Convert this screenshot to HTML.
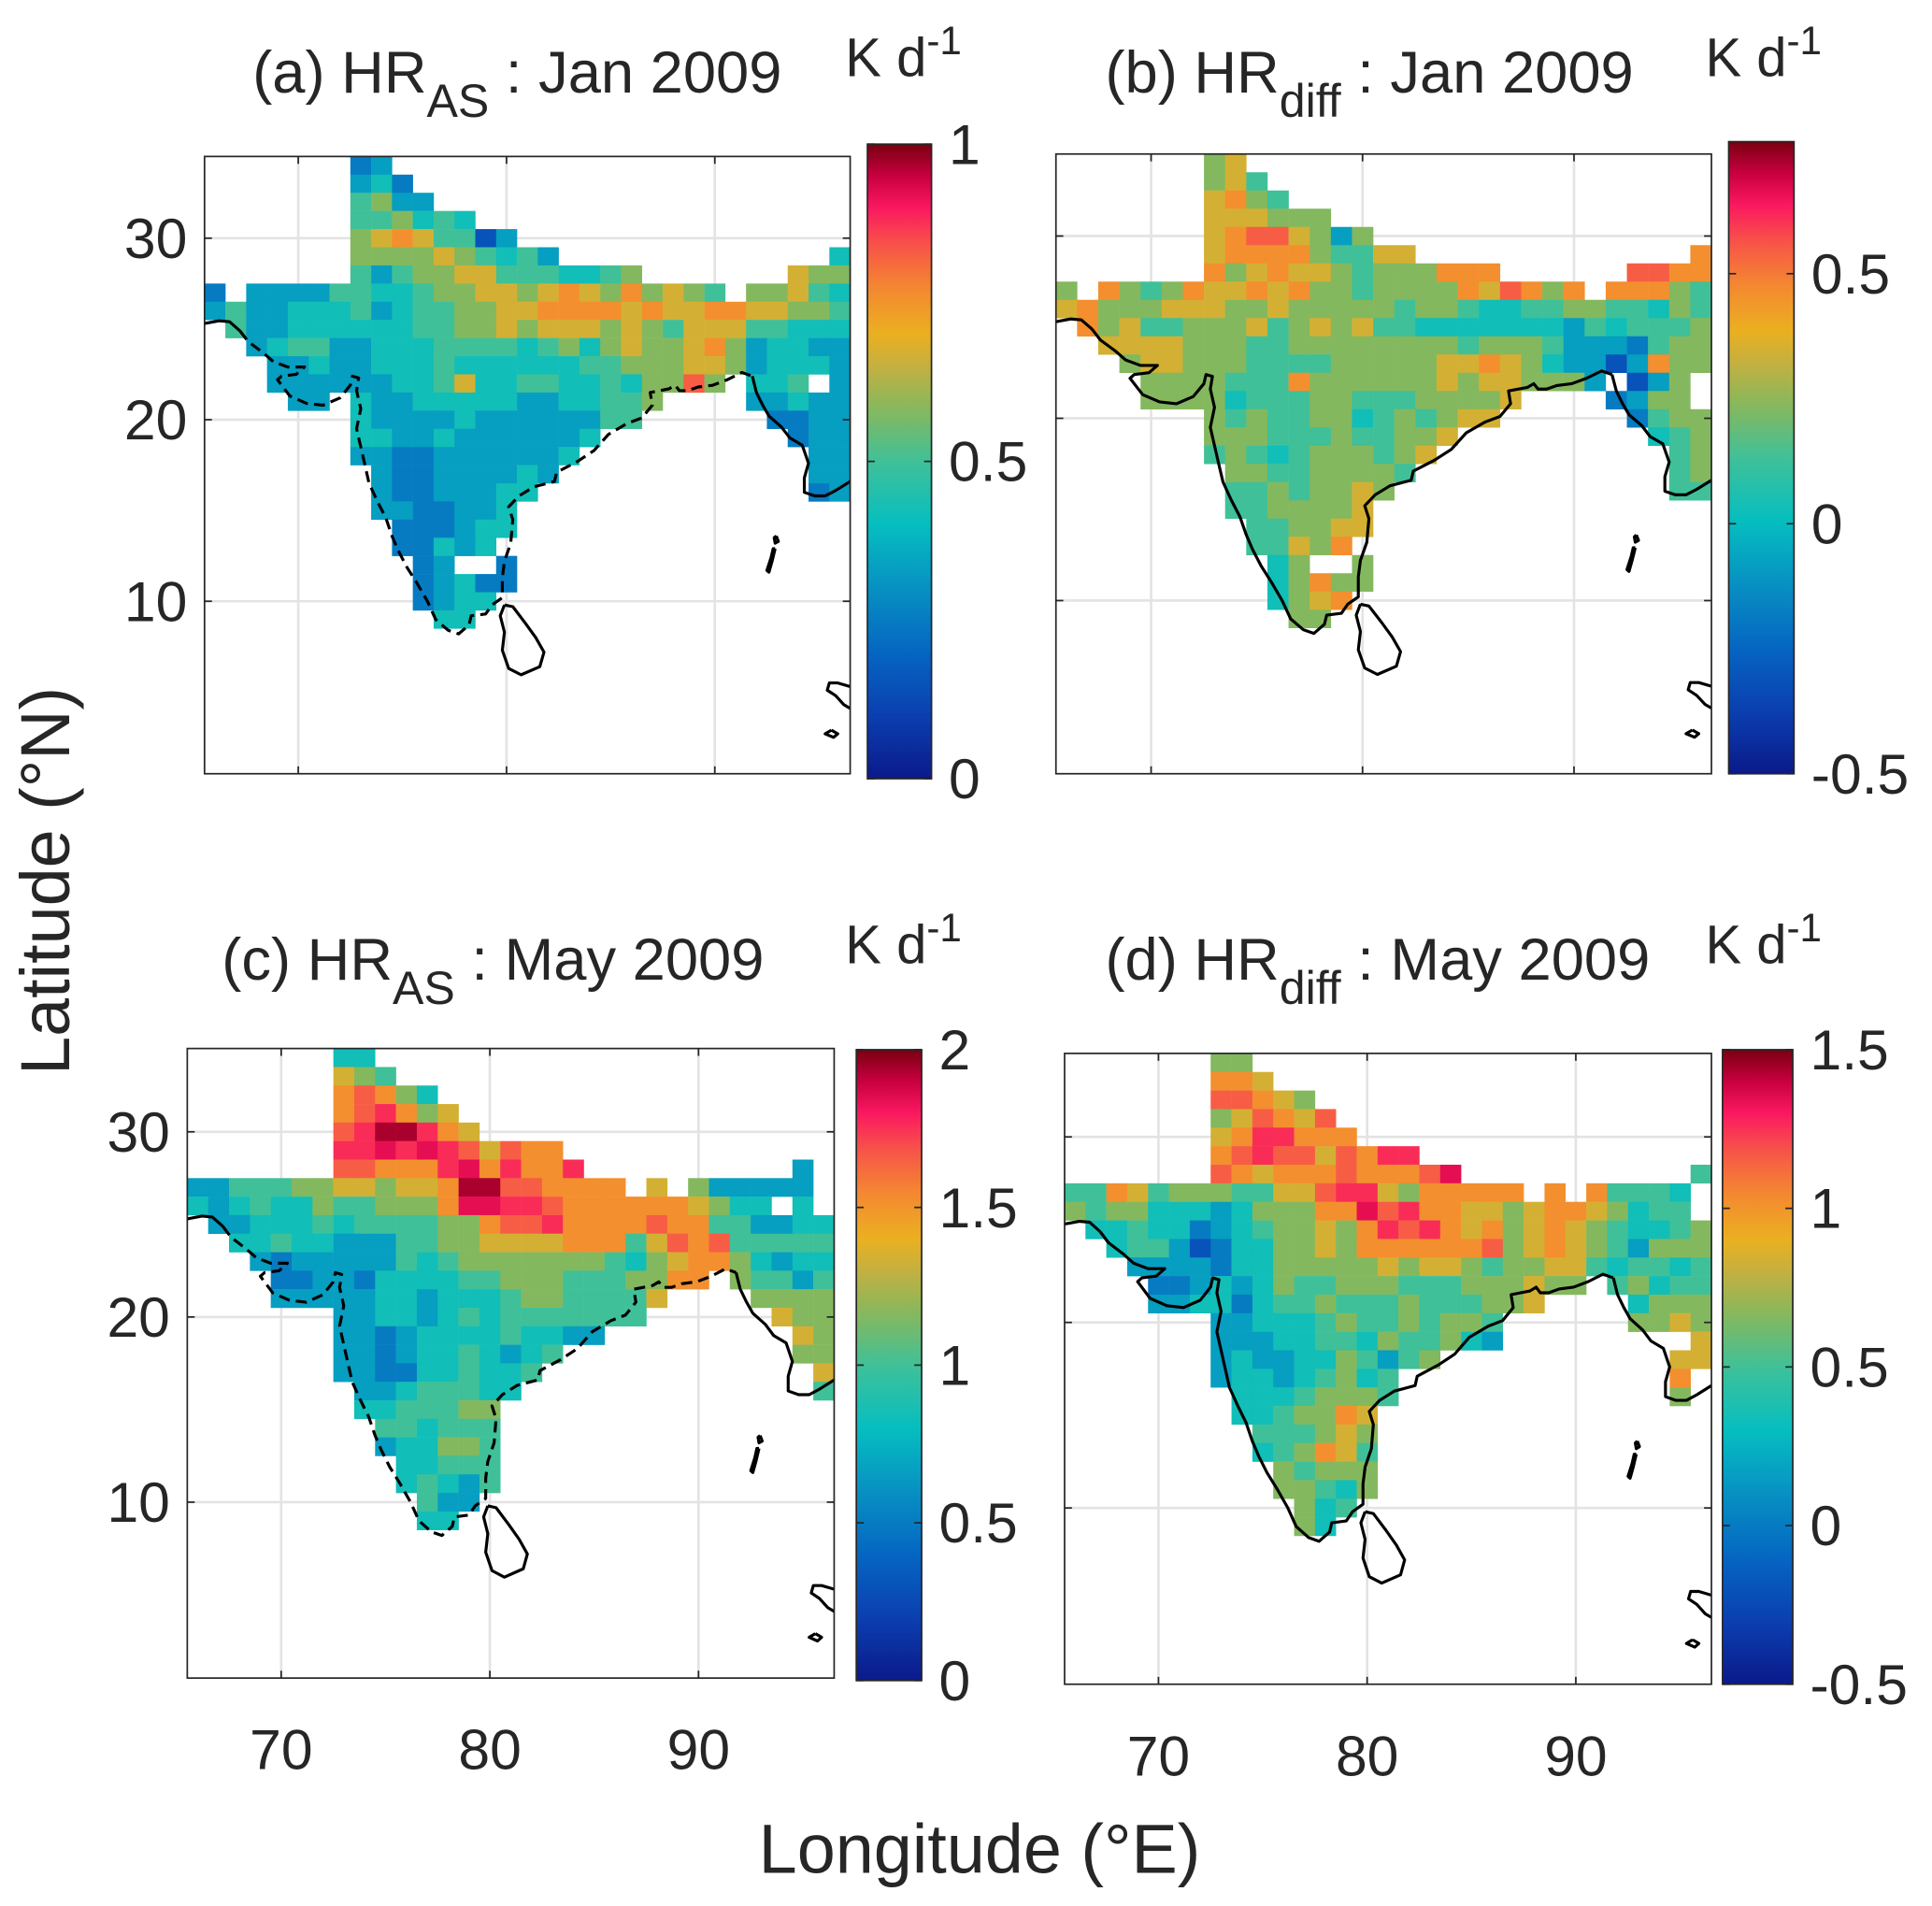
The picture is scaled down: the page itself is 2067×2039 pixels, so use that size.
<!DOCTYPE html>
<html><head><meta charset="utf-8">
<style>
html,body{margin:0;padding:0;background:#fff;}
svg{display:block;font-family:"Liberation Sans",Arial,sans-serif;}
text{fill:#262626;}
</style></head>
<body>
<svg id="fig" width="2067" height="2039" viewBox="0 0 1568 1547" preserveAspectRatio="none" xmlns="http://www.w3.org/2000/svg">
<defs>
<linearGradient id="cmapGrad" x1="0" y1="1" x2="0" y2="0"></linearGradient>
</defs>
<g id="panels"></g>
<text transform="translate(56,715) rotate(-90)" text-anchor="middle" font-size="56">Latitude (°N)</text>
<text x="795" y="1520" text-anchor="middle" font-size="56">Longitude (°E)</text>
</svg>
<script>
// ---- data: 1x1 degree grid, rows lat 34 -> 9, columns lon 66 -> 96 ; chars are colour-level codes
const lonStart = 66;
const latStart = 34;
const levelCodes = ['0','1','2','3','4','5','6','7','8','9','r','y','x'];
const levelFracs = [0.05,0.15,0.25,0.33,0.42,0.5,0.58,0.67,0.76,0.83,0.88,0.92,0.97];

const gridA = [
".......23",
".......342",
".......5633",
".......556454",
".......67875513",
".......6666765453.............4",
".......53566775554456.......766",
"2.33335544566776787686765.66754",
"3533444534556677888878778877665",
".533444444556676777676577755444",
"..34553344455554564676678634433",
"...3343344454444445566677634443",
"...3333334457445544546696.445.3",
"....33.433444443344556....33433",
".......43333433333355......2233",
".......443343333334.........233",
".......33223333334...........33",
"........322333343............33",
"........32233344.............23",
"........3322334",
".........222344",
".........22434",
"..........23..2",
"..........23422",
"..........2344",
"...........44"
];
const gridB = [
".......67",
".......675",
".......7865",
".......777666",
".......78997636",
".......7888865577.............8",
".......86787765666888......9988",
"6.86568778786656666879868.88865",
"7866677766766666566544556655465",
".867556667567675544444443545556",
"..77776665566666666566653332566",
"...6776665555666667787643313866",
"....6666555866666676776663.136.6",
"....666645556655566667....2366",
".......65655664565677......2566",
".......666555655667.........456",
".......56545666567...........56",
"........665566665............56",
"........55656676.............55",
"........5566667",
".........556677",
".........55768.",
"..........46..6",
"..........46866",
"..........4678",
"...........66"
];
const gridC = [
".......44",
".......765",
".......89864",
".......89r867",
".......9rxxr87",
".......rryryr97988",
".......99888ry8r88r..........3",
"3355566776778xx998888.7.633333.",
"4345446556668yyrr98888887644.4",
".3344454555566899r8888988553344",
"..44544333556677778885798955555",
"...3233333545666666654678864344",
"....223324444556665556688.65535",
"....3333344344456655557....66666",
".......334434545555555......7666",
".......3323444454433.........765",
".......33234454345...........66",
".......3322445445.............7",
"........33455544..............5",
"........4455566",
".........554555",
".........344665",
"..........44555",
"..........45435",
"...........533",
"...........44"
];
const gridD = [
".......66",
".......887",
".......99876",
".......679879",
".......78rr888",
".......89r99798rr",
".......98788898889y...........5",
"5587566655779rr7688888.8.85554.",
"65664443466688y9r8877678876455.5",
".44544234566768r9r8786787654456",
"..45531244667688888896787653666",
"...3333244666667677656677545545",
"....223434655666555666766.56455",
"....3344245565556555667....46667",
".......33444565565665......6676",
".......33344554655643.........787",
".......34334465356...........77",
".......344345645.............8",
"........44456665.............6",
"........4456687",
".........555676",
".........456875",
"..........65666",
"..........66546",
"...........645",
"...........64"
];

// colormap stops
const cmapPos = [0,0.1,0.2,0.3,0.4,0.5,0.58,0.65,0.7,0.77,0.84,0.9,0.95,1];
const cmapCol = ['#0b1a8a','#0b3fb0','#0566c2','#0790c2','#05bec0','#40c098','#84b85e','#c4b040','#eab020','#f48a30','#f75548','#fa1860','#c80040','#7a0010'];

const panels = [
 {id:'a', grid:gridA, x0:166, x1:690, y0:127, y1:628, vmin:0, vmax:1, cb:[704,756,117,632], cbTicks:[0,0.5,1], cbLabels:['0','0.5','1'], dashed:true,
  yLabels:true, xLabels:false, title:['(a) HR','AS',' : Jan 2009'], tx:205, ty:75, kx:686, ky:62},
 {id:'b', grid:gridB, x0:857, x1:1389, y0:125, y1:628, vmin:-0.5, vmax:0.764, cb:[1403,1456,115,628], cbTicks:[-0.5,0,0.5], cbLabels:['-0.5','0','0.5'], dashed:false,
  yLabels:false, xLabels:false, title:['(b) HR','diff',' : Jan 2009'], tx:897, ty:75, kx:1384, ky:62},
 {id:'c', grid:gridC, x0:152, x1:677, y0:851, y1:1362, vmin:0, vmax:2, cb:[695,748,852,1364], cbTicks:[0,0.5,1,1.5,2], cbLabels:['0','0.5','1','1.5','2'], dashed:true,
  yLabels:true, xLabels:true, title:['(c) HR','AS',' : May 2009'], tx:180, ty:795, kx:686, ky:782},
 {id:'d', grid:gridD, x0:864, x1:1389, y0:855, y1:1367, vmin:-0.5, vmax:1.5, cb:[1398,1455,852,1367], cbTicks:[-0.5,0,0.5,1,1.5], cbLabels:['-0.5','0','0.5','1','1.5'], dashed:false,
  yLabels:false, xLabels:true, title:['(d) HR','diff',' : May 2009'], tx:897, ty:795, kx:1384, ky:782}
];
const lonTicks = [70,80,90];
const latTicks = [10,20,30];

// coastlines (lon, lat)
const coastWestSolid = [[65.5,25.3],[66.2,25.45],[66.7,25.4],[67.2,24.9]];
const coastIndia = [[67.2,24.9],[67.6,24.3],[68.3,23.7],[68.8,23.2],[69.5,22.9],[70.3,22.9],[69.9,22.5],[69.2,22.4],[69.0,22.2],[69.6,21.3],[70.4,20.9],[71.2,20.8],[72.0,21.2],[72.5,21.9],[72.6,22.4],[72.9,22.3],[72.8,21.6],[73.0,20.6],[72.8,19.5],[73.0,18.5],[73.2,17.5],[73.4,16.5],[73.8,15.5],[74.2,14.6],[74.5,13.6],[74.8,12.8],[75.2,11.9],[75.7,11.0],[76.2,10.0],[76.6,9.0],[77.2,8.4],[77.7,8.2],[78.2,8.7],[78.3,9.2],[79.0,9.3],[79.3,9.8],[79.8,10.2],[79.8,11.3],[79.9,12.2],[80.2,13.2],[80.3,14.5],[80.1,15.2],[80.6,15.8],[81.3,16.3],[82.3,16.6],[82.4,17.1],[83.4,17.7],[84.2,18.3],[84.9,19.2],[85.8,19.8],[86.5,20.1],[87.0,20.8],[86.9,21.5],[87.8,21.7],[88.1,21.9],[88.3,21.6],[88.7,21.6],[89.2,21.8],[89.9,21.9],[90.6,22.2],[91.3,22.6],[91.8,22.4]];
const coastEast = [[91.8,22.4],[92.0,21.5],[92.3,20.8],[92.6,20.2],[93.2,19.6],[93.6,19.0],[94.2,18.6],[94.5,17.6],[94.3,16.8],[94.3,16.0],[94.8,15.8],[95.3,15.8],[95.8,16.1],[96.5,16.6]];
const sriLanka = [[79.9,9.8],[80.3,9.7],[80.9,8.8],[81.4,8.0],[81.8,7.2],[81.6,6.4],[80.7,5.95],[80.1,6.3],[79.8,7.3],[79.9,8.3],[79.7,9.2],[79.9,9.8]];
const andamanA = [[92.95,13.6],[93.05,13.3],[92.9,13.2],[92.85,13.5],[92.95,13.6]];
const andamanB = [[92.9,12.9],[92.75,12.2],[92.6,11.6],[92.5,11.7],[92.7,12.4],[92.8,12.9],[92.9,12.9]];
const sumatraA = [[96.5,5.3],[95.9,5.5],[95.5,5.5],[95.4,5.1],[95.8,4.8],[96.2,4.3],[96.5,4.1]];
const sumatraB = [[95.6,2.9],[95.9,2.7],[95.7,2.5],[95.3,2.7],[95.6,2.9]];

const NS = 'http://www.w3.org/2000/svg';
const root = document.getElementById('panels');
function mk(tag, attrs, parent){
  const e = document.createElementNS(NS, tag);
  for (const k in attrs) e.setAttribute(k, attrs[k]);
  (parent||root).appendChild(e);
  return e;
}
function hexToRgb(h){return [parseInt(h.substr(1,2),16),parseInt(h.substr(3,2),16),parseInt(h.substr(5,2),16)];}
function cmap(f){
  f = Math.max(0, Math.min(1, f));
  for (let i=1;i<cmapPos.length;i++){
    if (f<=cmapPos[i]){
      const t=(f-cmapPos[i-1])/(cmapPos[i]-cmapPos[i-1]);
      const a=hexToRgb(cmapCol[i-1]), b=hexToRgb(cmapCol[i]);
      return 'rgb('+a.map((v,j)=>Math.round(v+(b[j]-v)*t)).join(',')+')';
    }
  }
  return cmapCol[cmapCol.length-1];
}
const grad = document.getElementById('cmapGrad');
for (let i=0;i<=40;i++){
  const s = document.createElementNS(NS,'stop');
  s.setAttribute('offset', (i/40));
  s.setAttribute('stop-color', cmap(i/40));
  grad.appendChild(s);
}

panels.forEach(p => {
  const g = mk('g', {});
  
  
  const lonMin=65.5, lonMax=96.5, latMin=0.5, latMax=34.5;
  const X = lon => p.x0 + (lon-lonMin)/(lonMax-lonMin)*(p.x1-p.x0);
  const Y = lat => p.y1 - (lat-latMin)/(latMax-latMin)*(p.y1-p.y0);
  lonTicks.forEach(t => { const l=mk('line',{x1:X(t),x2:X(t),y1:p.y0,y2:p.y1,stroke:'#e3e3e3','stroke-width':2},g);
      });
  latTicks.forEach(t => { const l=mk('line',{x1:p.x0,x2:p.x1,y1:Y(t),y2:Y(t),stroke:'#e3e3e3','stroke-width':2},g);
      });
  p.grid.forEach((row, r) => {
    const lat = latStart - r;
    for (let c=0;c<row.length && c<31;c++){
      const k = levelCodes.indexOf(row[c]);
      if (k<0) continue;
      const lon = lonStart + c;
      const value = p.vmin + levelFracs[k]*(p.vmax-p.vmin);
      const rect = mk('rect',{x:X(lon-0.5), y:Y(lat+0.5), width:X(lon+0.5)-X(lon-0.5)+0.2, height:Y(lat-0.5)-Y(lat+0.5)+0.2,
        fill:cmap((value-p.vmin)/(p.vmax-p.vmin))}, g);
      
      
    }
  });
  const pathOf = pts => pts.map((q,i)=>(i?'L':'M')+X(q[0]).toFixed(1)+','+Y(q[1]).toFixed(1)).join('');
  const coastStyle = {fill:'none',stroke:'#000','stroke-width':2.4,'stroke-linejoin':'round'};
  [[coastWestSolid,false],[coastIndia,p.dashed],[coastEast,false],[sriLanka,false],[andamanA,false],[andamanB,false],[sumatraA,false],[sumatraB,false]].forEach(([pts,dash])=>{
    const a = Object.assign({d:pathOf(pts)}, coastStyle);
    if (dash) a['stroke-dasharray']='9,5';
    const e = mk('path', a, g);
    
    
  });
  const box = mk('rect',{x:p.x0,y:p.y0,width:p.x1-p.x0,height:p.y1-p.y0,fill:'none',stroke:'#262626','stroke-width':1.3},g);
  
  
  lonTicks.forEach(t=>{
    mk('line',{x1:X(t),x2:X(t),y1:p.y1,y2:p.y1-6,stroke:'#262626','stroke-width':1.3},g);
    mk('line',{x1:X(t),x2:X(t),y1:p.y0,y2:p.y0+6,stroke:'#262626','stroke-width':1.3},g);
    if (p.xLabels){
      const tx = mk('text',{x:X(t),y:p.y1+74,'text-anchor':'middle','font-size':46},g);
      tx.textContent = String(t);
      
      
    }
  });
  latTicks.forEach(t=>{
    mk('line',{x1:p.x0,x2:p.x0+6,y1:Y(t),y2:Y(t),stroke:'#262626','stroke-width':1.3},g);
    mk('line',{x1:p.x1,x2:p.x1-6,y1:Y(t),y2:Y(t),stroke:'#262626','stroke-width':1.3},g);
    if (p.yLabels){
      const ty = mk('text',{x:p.x0-14,y:Y(t)+16,'text-anchor':'end','font-size':46},g);
      ty.textContent = String(t);
      
      
    }
  });
  const [cx0,cx1,cy0,cy1] = p.cb;
  const cbr = mk('rect',{x:cx0,y:cy0,width:cx1-cx0,height:cy1-cy0,fill:'url(#cmapGrad)',stroke:'#262626','stroke-width':1.3},g);
  
  
  const CY = v => cy1 - (v-p.vmin)/(p.vmax-p.vmin)*(cy1-cy0);
  p.cbTicks.forEach((v,i)=>{
    mk('line',{x1:cx0,x2:cx0+6,y1:CY(v),y2:CY(v),stroke:'#262626','stroke-width':1.3},g);
    mk('line',{x1:cx1,x2:cx1-6,y1:CY(v),y2:CY(v),stroke:'#262626','stroke-width':1.3},g);
    const lt = mk('text',{x:cx1+14,y:CY(v)+16,'font-size':46},g);
    lt.textContent = p.cbLabels[i];
    
    
  });
  const tt = mk('text',{x:p.tx,y:p.ty,'font-size':48},g);
  
  
  const s1 = mk('tspan',{},tt); s1.textContent = p.title[0];
  const s2 = mk('tspan',{dy:20,'font-size':38},tt); s2.textContent = p.title[1];
  const s3 = mk('tspan',{dy:-20},tt); s3.textContent = p.title[2];
  const ku = mk('text',{x:p.kx,y:p.ky,'font-size':44},g);
  
  
  const k1 = mk('tspan',{},ku); k1.textContent = 'K d';
  const k2 = mk('tspan',{dy:-18,'font-size':32},ku); k2.textContent = '-1';
});
</script>
</body></html>
